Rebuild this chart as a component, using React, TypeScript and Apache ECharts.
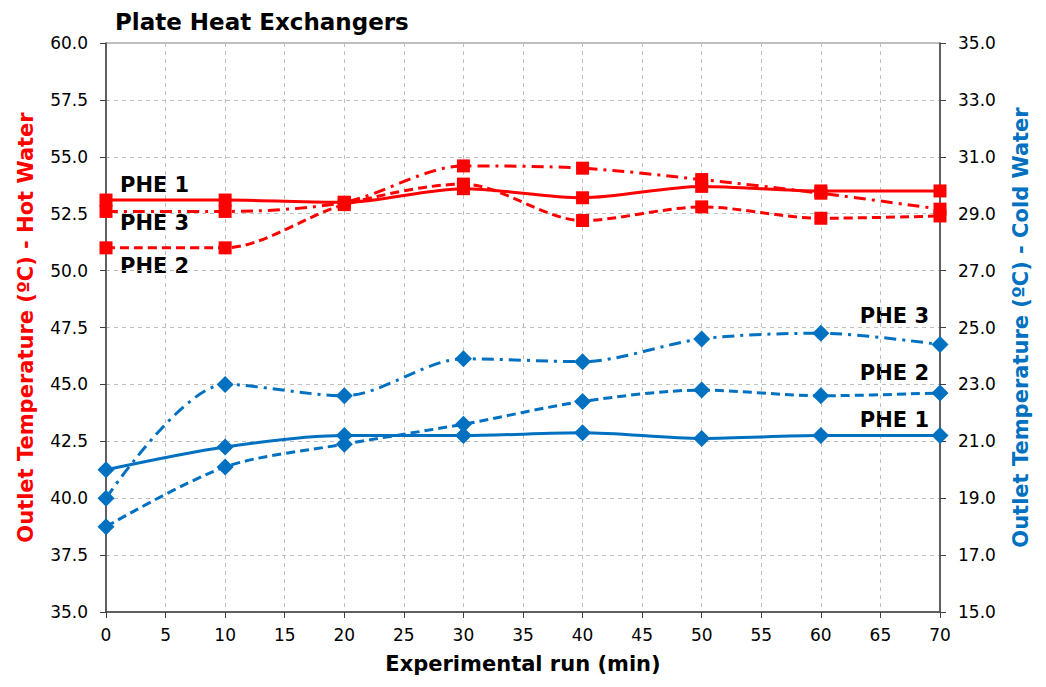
import React, { useEffect, useRef } from "react";
import * as echarts from "echarts";

const runs = [0, 10, 20, 30, 40, 50, 60, 70];
const hotPHE1 = [53.1, 53.1, 53.0, 53.6, 53.2, 53.7, 53.5, 53.5];
const hotPHE2 = [51.0, 51.0, 52.9, 53.8, 52.2, 52.8, 52.3, 52.4];
const hotPHE3 = [52.6, 52.6, 53.0, 54.6, 54.5, 54.0, 53.4, 52.7];
const coldPHE1 = [20.0, 20.8, 21.2, 21.2, 21.3, 21.1, 21.2, 21.2];
const coldPHE2 = [18.0, 20.1, 20.9, 21.6, 22.4, 22.8, 22.6, 22.7];
const coldPHE3 = [19.0, 23.0, 22.6, 23.9, 23.8, 24.6, 24.8, 24.4];

const RED = "#FF0000";
const BLUE = "#0070C0";
const FONT = "DejaVu Sans";

const pairs = (ys: number[]) => runs.map((x, i) => [x, ys[i]]);

function series(name: string, data: number[], axis: number, color: string, type: any, symbol: string, size: number) {
  return {
    name,
    type: "line",
    yAxisIndex: axis,
    data: pairs(data),
    smooth: 0.3,
    symbol,
    symbolSize: size,
    itemStyle: { color },
    lineStyle: { color, width: 3, type },
  };
}

export default function App() {
  const ref = useRef<HTMLDivElement>(null);
  useEffect(() => {
    if (!ref.current) return;
    const chart = echarts.init(ref.current, null, { renderer: "svg" });
    const DASH = [9, 5];
    const DASHDOT = [12, 6, 3, 6];
    const labelStyle = { fontFamily: FONT, fontWeight: "bold", fontSize: 21, fill: "#000" };
    chart.setOption({
      animation: false,
      title: {
        text: "Plate Heat Exchangers",
        left: 110,
        top: 5,
        textStyle: { fontFamily: FONT, fontWeight: "bold", fontSize: 23, color: "#000" },
      },
      grid: {
        left: 106,
        right: 106,
        top: 43,
        bottom: 75,
        show: true,
        borderColor: "#808080",
        borderWidth: 1,
      },
      xAxis: {
        type: "value",
        min: 0,
        max: 70,
        interval: 5,
        name: "Experimental run (min)",
        nameLocation: "middle",
        nameGap: 41,
        nameTextStyle: { fontFamily: FONT, fontWeight: "bold", fontSize: 21, color: "#000" },
        axisLine: { lineStyle: { color: "#404040", width: 1.5 } },
        axisTick: { show: true, length: 6, lineStyle: { color: "#404040" } },
        axisLabel: { fontFamily: FONT, fontSize: 17, color: "#000", margin: 14 },
        splitLine: { show: true, lineStyle: { color: "#BFBFBF", type: [4, 4] } },
      },
      yAxis: [
        {
          type: "value",
          min: 35,
          max: 60,
          interval: 2.5,
          position: "left",
          name: "Outlet Temperature (ºC) - Hot Water",
          nameLocation: "middle",
          nameRotate: 90,
          nameGap: 70,
          nameTextStyle: { fontFamily: FONT, fontWeight: "bold", fontSize: 21, color: RED },
          axisLine: { show: true, lineStyle: { color: "#404040", width: 1.5 } },
          axisTick: { show: true, length: 6, lineStyle: { color: "#404040" } },
          axisLabel: { fontFamily: FONT, fontSize: 17, color: "#000", margin: 18, formatter: (v: number) => v.toFixed(1) },
          splitLine: { show: true, lineStyle: { color: "#BFBFBF", type: [4, 4] } },
        },
        {
          type: "value",
          min: 15,
          max: 35,
          interval: 2,
          position: "right",
          name: "Outlet Temperature (ºC) - Cold Water",
          nameLocation: "middle",
          nameRotate: 90,
          nameGap: 70,
          nameTextStyle: { fontFamily: FONT, fontWeight: "bold", fontSize: 21, color: BLUE },
          axisLine: { show: true, lineStyle: { color: "#404040", width: 1.5 } },
          axisTick: { show: true, length: 6, lineStyle: { color: "#404040" } },
          axisLabel: { fontFamily: FONT, fontSize: 17, color: "#000", margin: 18, formatter: (v: number) => v.toFixed(1) },
          splitLine: { show: false },
        },
      ],
      series: [
        series("Hot PHE 1", hotPHE1, 0, RED, "solid", "rect", 13),
        series("Hot PHE 2", hotPHE2, 0, RED, DASH, "rect", 13),
        series("Hot PHE 3", hotPHE3, 0, RED, DASHDOT, "rect", 13),
        series("Cold PHE 1", coldPHE1, 1, BLUE, "solid", "diamond", 17),
        series("Cold PHE 2", coldPHE2, 1, BLUE, DASH, "diamond", 17),
        series("Cold PHE 3", coldPHE3, 1, BLUE, DASHDOT, "diamond", 17),
      ],
      graphic: [
        { type: "text", left: 120, top: 174, style: { ...labelStyle, text: "PHE 1" } },
        { type: "text", left: 120, top: 212, style: { ...labelStyle, text: "PHE 3" } },
        { type: "text", left: 120, top: 255, style: { ...labelStyle, text: "PHE 2" } },
        { type: "text", right: 117, top: 305, style: { ...labelStyle, text: "PHE 3" } },
        { type: "text", right: 117, top: 362, style: { ...labelStyle, text: "PHE 2" } },
        { type: "text", right: 117, top: 409, style: { ...labelStyle, text: "PHE 1" } },
      ],
    });
    return () => chart.dispose();
  }, []);
  return <div ref={ref} style={{ width: 1046, height: 687, position: "absolute", left: 0, top: 0 }} />;
}
